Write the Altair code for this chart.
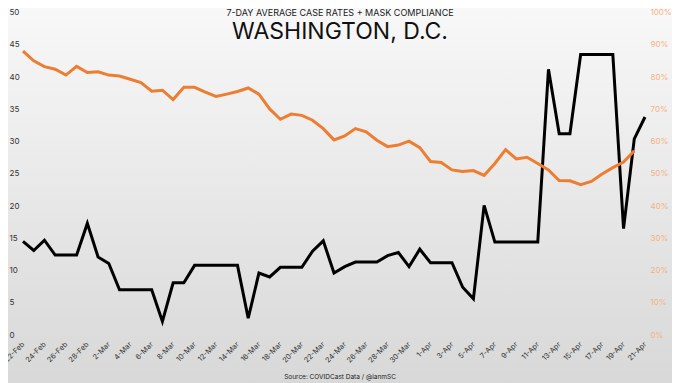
import altair as alt
import pandas as pd

dates = [d.strftime("%-d-%b") for d in pd.date_range("2021-02-22", "2021-04-21")]

cases = [14.5, 13.1, 14.7, 12.4, 12.4, 12.4, 17.3, 12.1, 11.1, 7.0, 7.0, 7.0, 7.0, 2.1, 8.1,
         8.1, 10.8, 10.8, 10.8, 10.8, 10.8, 2.6, 9.6, 9.0, 10.5, 10.5, 10.5, 13.0, 14.6, 9.6,
         10.6, 11.3, 11.3, 11.3, 12.3, 12.8, 10.6, 13.3, 11.2, 11.2, 11.2, 7.4, 5.6, 20.1,
         14.4, 14.4, 14.4, 14.4, 14.4, 41.2, 31.2, 31.2, 43.5, 43.5, 43.5, 43.5, 16.5, 30.4, 33.8]

mask = [88.0, 85.0, 83.2, 82.4, 80.6, 83.3, 81.4, 81.6, 80.6, 80.3, 79.3, 78.3, 75.6, 75.9, 73.0,
        76.8, 76.8, 75.3, 74.0, 74.7, 75.5, 76.6, 74.7, 70.1, 66.9, 68.5, 68.1, 66.6, 64.0, 60.5,
        61.7, 64.0, 63.0, 60.4, 58.4, 58.9, 60.1, 58.1, 53.8, 53.5, 51.2, 50.7, 51.0, 49.5,
        53.2, 57.5, 54.6, 55.1, 53.2, 51.2, 47.9, 47.8, 46.6, 47.6, 49.9, 51.9, 53.6, 57.1]

left_ticks = list(range(0, 55, 5))
right_ticks = list(range(0, 110, 10))

title_small = "7-DAY AVERAGE CASE RATES + MASK COMPLIANCE"
title_big = "WASHINGTON, D.C."
source = "Source: COVIDCast Data / @ianmSC"

W, H = 622, 322.5
PL, PT, PR, PB = 15, 4.5, 27, 48

df_cases = pd.DataFrame({"date": dates, "cases": cases})
df_mask = pd.DataFrame({"date": dates[:len(mask)], "mask": mask})
one = pd.DataFrame({"k": [0]})

x_enc = alt.X("date:O", sort=dates,
              scale=alt.Scale(type="point", padding=0),
              axis=alt.Axis(values=dates[::2], labelAngle=-45, labelAlign="right",
                            labelBaseline="middle", ticks=False, domain=False, grid=False,
                            labelPadding=8, labelOverlap=False, title=None, zindex=2,
                            labelFontSize=7.3, labelColor="#333333", labelFont="Inter"))

bg = alt.Chart(one).mark_rect(
    color=alt.Gradient(gradient="linear",
                       stops=[alt.GradientStop(color="#f8f8f8", offset=0),
                              alt.GradientStop(color="#d8d8d8", offset=1)],
                       x1=0, x2=0, y1=0, y2=1)
).encode(x=alt.value(-PL), x2=alt.value(W + PR), y=alt.value(-PT), y2=alt.value(H + PB))

black = alt.Chart(df_cases).mark_line(color="#000000", strokeWidth=3).encode(
    x=x_enc,
    y=alt.Y("cases:Q", scale=alt.Scale(domain=[0, 50], nice=False),
            axis=alt.Axis(orient="left", values=left_ticks, ticks=False, domain=False,
                          grid=False, labelAlign="left", labelPadding=14, title=None, zindex=2,
                          labelFontSize=8, labelColor="#333333", labelFont="Inter")))

orange = alt.Chart(df_mask).mark_line(color="#ed7d31", strokeWidth=3).encode(
    x=x_enc,
    y=alt.Y("mask:Q", scale=alt.Scale(domain=[0, 100], nice=False),
            axis=alt.Axis(orient="right", values=right_ticks, ticks=False, domain=False,
                          grid=False, labelPadding=5, title=None, zindex=2,
                          labelExpr="datum.value + '%'",
                          labelFontSize=8, labelColor="#f4b183", labelFont="Inter")))

t1 = alt.Chart(one).mark_text(text=title_small, font="Inter", fontSize=9,
                              color="#1a1a1a", align="center", baseline="middle").encode(
    x=alt.value(317), y=alt.value(0.5))
t2 = alt.Chart(one).mark_text(text=title_big, font="Inter", fontSize=23,
                              color="#111111", align="center", baseline="middle").encode(
    x=alt.value(317), y=alt.value(19))
t3 = alt.Chart(one).mark_text(text=source, font="Inter", fontSize=6.5,
                              color="#222222", align="center", baseline="middle").encode(
    x=alt.value(317), y=alt.value(364.5))

chart = alt.layer(bg, black, orange, t1, t2, t3).resolve_scale(y="independent").properties(
    width=W, height=H,
    autosize=alt.AutoSizeParams(type="none"),
    padding={"left": PL, "top": PT, "right": PR, "bottom": PB},
).configure_view(stroke=None)

chart.save("out.html", embed_options={"renderer": "svg", "actions": False})
